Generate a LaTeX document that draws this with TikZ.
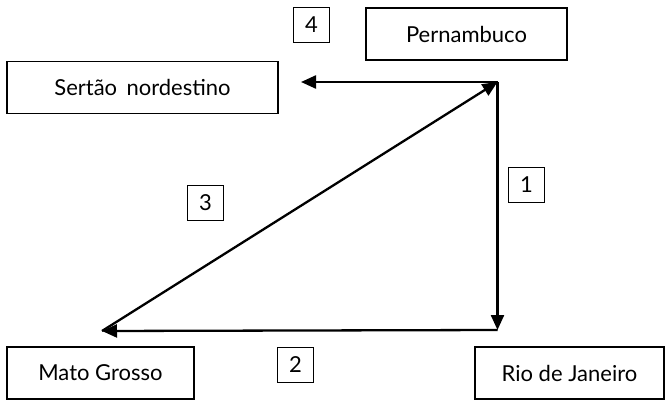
\documentclass[tikz,border=0pt]{standalone}
\usepackage{fontspec}
\setmainfont{Lato}
\usepackage{tikz}
\usetikzlibrary{positioning}
\usetikzlibrary{arrows.meta}

\begin{document}
\begin{tikzpicture}[x=1pt,y=-1pt,
        place/.style={draw,line width=1.1pt,minimum height=52pt,inner sep=0pt,font=\fontsize{22}{26}\selectfont},
        step number/.style={draw,line width=1pt,minimum width=36pt,minimum height=35pt,inner sep=0pt,font=\fontsize{22}{26}\selectfont},
        route/.style={line width=2.3pt,-{Triangle[length=15pt,width=13pt]}}]
      \useasboundingbox (0,0) rectangle (665,400);
      \node[place,minimum width=201pt]  (PE)  at (466.5,34)  {Pernambuco};
      \node[place,minimum width=271pt]  (SN)  at (142.5,87.5) {Sertão\, nordestino};
      \node[place,minimum width=187pt]  (MG)  at (100.5,373) {Mato Grosso};
      \node[place,minimum width=189pt]  (RJ)  at (569.5,373) {Rio de Janeiro};
      \node[step number]  (n4)  at (311.5,25)  {4};
      \node[step number]  (n1)  at (526.5,185) {1};
      \node[step number]  (n3)  at (205.5,203) {3};
      \node[step number]  (n2)  at (295.5,364.5) {2};

      \coordinate (top)   at (497.5,82);
      \coordinate (right) at (497.5,330);
      \coordinate (left)  at (102,331);
      \coordinate (west)  at (301,82);

      \draw [route] (top) -- (right);
      \draw [route] (right) -- (left);
      \draw [route] (left) -- (top);
      \draw [route] (top) -- (west);
\end{tikzpicture}
\end{document}
